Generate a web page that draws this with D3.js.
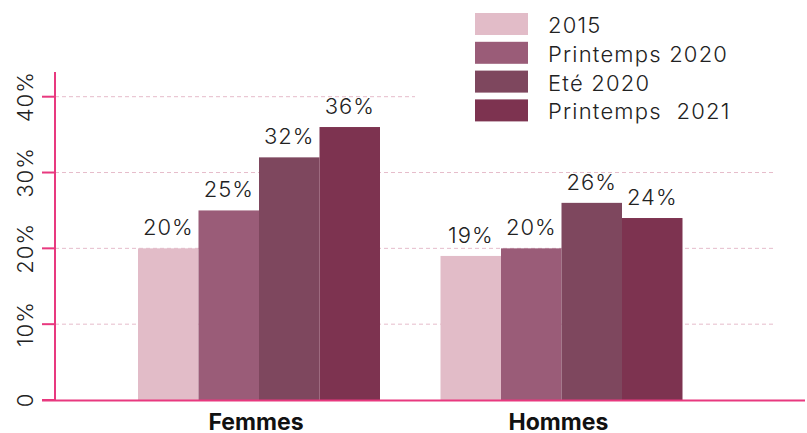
<!DOCTYPE html>
<html lang="fr">
<head>
<meta charset="UTF-8">
<title>Femmes / Hommes</title>
<script src="https://d3js.org/d3.v7.min.js"></script>
<style>
    body { margin: 0; background: #fff; }
    svg { display: block; font-family: Inter, "Noto Sans", sans-serif; }
</style>
</head>
<body>
<svg id="chart" width="807" height="433"></svg>
<script>
const categories = ["Femmes", "Hommes"];
const series = ["2015", "Printemps 2020", "Eté 2020", "Printemps  2021"];
const values = {
    "2015": [0.20, 0.19],
    "Printemps 2020": [0.25, 0.20],
    "Eté 2020": [0.32, 0.26],
    "Printemps  2021": [0.36, 0.24]
};
const yTicks = [0, 0.1, 0.2, 0.3, 0.4];
const colors = ["#e2bcc8", "#9a5c78", "#7e475e", "#7d3350"];

const svg = d3.select("#chart");
const axisColor = "#e8397f";
const fs = 22;

const x0 = d3.scaleBand().domain(categories).range([107.75, 712.75])
    .paddingInner(0.2).paddingOuter(0.1);
const x1 = d3.scaleBand().domain(series).range([0, x0.bandwidth()]);
const y = d3.scaleLinear().domain([0, 0.4]).range([400, 96.7]);
const color = d3.scaleOrdinal().domain(series).range(colors);

// grid
svg.append("g").selectAll("line")
    .data(yTicks.slice(1))
    .join("line")
    .attr("x1", 55).attr("x2", 775)
    .attr("y1", d => y(d)).attr("y2", d => y(d))
    .attr("stroke", "#e6bccb")
    .attr("stroke-width", 1)
    .attr("stroke-dasharray", "4,3");

// bars
const rows = categories.map((c, i) => ({ cat: c, vals: series.map(s => ({ s, v: values[s][i] })) }));
const g = svg.append("g").selectAll("g")
    .data(rows)
    .join("g")
    .attr("transform", d => `translate(${x0(d.cat)},0)`);

g.selectAll("rect")
    .data(d => d.vals)
    .join("rect")
    .attr("x", d => x1(d.s))
    .attr("y", d => y(d.v))
    .attr("width", x1.bandwidth())
    .attr("height", d => y(0) - y(d.v))
    .attr("fill", d => color(d.s));

g.selectAll("text")
    .data(d => d.vals)
    .join("text")
    .attr("x", d => x1(d.s) + x1.bandwidth() / 2)
    .attr("y", d => y(d.v) - 13)
    .attr("text-anchor", "middle")
    .attr("font-size", fs)
    .attr("font-weight", 300)
    .attr("letter-spacing", 1)
    .attr("fill", "#222")
    .text(d => Math.round(d.v * 100) + "%");

// legend (white backdrop hides the top grid line)
const legend = svg.append("g");
legend.append("rect")
    .attr("x", 415).attr("y", 0).attr("width", 392).attr("height", 125)
    .attr("fill", "#fff");
series.forEach((s, i) => {
    const ly = 13 + i * 28.8;
    legend.append("rect")
        .attr("x", 475).attr("y", ly)
        .attr("width", 53).attr("height", 22)
        .attr("fill", color(s));
    legend.append("text")
        .attr("x", 548).attr("y", ly + 20)
        .attr("font-size", fs)
        .attr("font-weight", 300)
        .attr("letter-spacing", 1.2)
        .attr("fill", "#222")
        .style("white-space", "pre")
        .text(s);
});

// y axis
const yAxis = svg.append("g");
yAxis.append("line")
    .attr("x1", 55).attr("x2", 55).attr("y1", 72).attr("y2", 400)
    .attr("stroke", axisColor).attr("stroke-width", 2);
yAxis.selectAll(".tick")
    .data(yTicks)
    .join("line")
    .attr("x1", 42).attr("x2", 55)
    .attr("y1", d => y(d)).attr("y2", d => y(d))
    .attr("stroke", axisColor).attr("stroke-width", 2);
yAxis.selectAll("text")
    .data(yTicks)
    .join("text")
    .attr("transform", d => `translate(33,${y(d)}) rotate(-90)`)
    .attr("text-anchor", "middle")
    .attr("font-size", fs)
    .attr("font-weight", 300)
    .attr("letter-spacing", 1)
    .attr("fill", "#222")
    .text(d => d === 0 ? "0" : Math.round(d * 100) + "%");

// x axis
svg.append("line")
    .attr("x1", 42).attr("x2", 805).attr("y1", 400.5).attr("y2", 400.5)
    .attr("stroke", axisColor).attr("stroke-width", 2);
svg.append("g").selectAll("text")
    .data(categories)
    .join("text")
    .attr("x", d => x0(d) + x0.bandwidth() / 2 - 3)
    .attr("y", 430)
    .attr("text-anchor", "middle")
    .attr("font-size", 23)
    .attr("font-weight", "bold")
    .attr("fill", "#111")
    .text(d => d);
</script>
</body>
</html>
